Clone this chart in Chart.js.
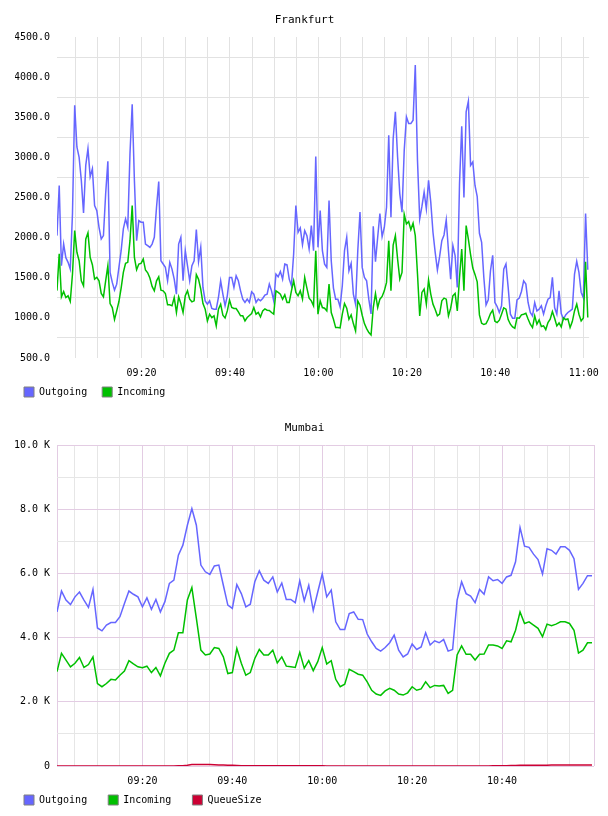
<!DOCTYPE html>
<html>
<head>
<meta charset="utf-8">
<script src="https://cdn.jsdelivr.net/npm/chart.js@4.4.1/dist/chart.umd.min.js"></script>
<style>
  body { margin: 0; background: #fff; }
  canvas { display: block; }
</style>
</head>
<body>
<canvas id="frankfurt" width="608" height="408"></canvas>
<canvas id="mumbai" width="608" height="408"></canvas>
<script>
// Frankfurt: one sample every 30 s, minutes after 09:00
const frStart = 0.9;
const frStep = 0.5;
const frOutgoing = [
    2025, 2650, 1650, 1920, 1750, 1692, 1608, 2300, 3650, 3129,
    3000, 2712, 2308, 2900, 3108, 2760, 2858, 2400, 2337, 2129,
    1983, 2025, 2546, 2950, 1567, 1442, 1346, 1420, 1629, 1837,
    2108, 2233, 2129, 3046, 3662, 2712, 1962, 2212, 2192, 2192,
    1920, 1900, 1879, 1920, 2004, 2379, 2700, 1712, 1671, 1629,
    1462, 1692, 1608, 1483, 1296, 1920, 2004, 1462, 1837, 1650,
    1462, 1650, 1712, 2100, 1700, 1880, 1379, 1212, 1171, 1212,
    1117, 1108, 1108, 1254, 1462, 1296, 1150, 1275, 1504, 1504,
    1379, 1525, 1462, 1337, 1233, 1192, 1233, 1192, 1325, 1296,
    1192, 1233, 1212, 1242, 1283, 1296, 1420, 1337, 1212, 1546,
    1512, 1579, 1483, 1671, 1662, 1483, 1400, 1796, 2400, 2066,
    2121, 1912, 2087, 2025, 1858, 2150, 1837, 3012, 1879, 2337,
    1837, 1670, 1629, 2462, 1712, 1371, 1233, 1233, 1137, 1400,
    1837, 2004, 1587, 1679, 1296, 1171, 1837, 2320, 1629, 1504,
    1462, 1230, 1050, 2140, 1700, 2004, 2300, 2012, 2129, 2379,
    3275, 2254, 3233, 3567, 3004, 2546, 2317, 3087, 3504, 3421,
    3421, 3463, 4150, 2962, 2233, 2388, 2567, 2358, 2713, 2442,
    2067, 1817, 1596, 1762, 1962, 2033, 2221, 1837, 1483, 1900,
    1775, 1380, 2671, 3387, 2500, 3567, 3700, 2900, 2942, 2650,
    2512, 2054, 1942, 1504, 1162, 1225, 1587, 1780, 1192, 1142,
    1067, 1150, 1608, 1671, 1379, 1046, 996, 996, 1225, 1246,
    1329, 1462, 1421, 1192, 1067, 1025, 1192, 1087, 1108, 1150,
    1046, 1150, 1233, 1254, 1504, 1129, 1046, 1337, 1054, 983,
    1037, 1067, 1087, 1108, 1546, 1704, 1567, 1317, 1250, 2300, 1600
];
const frIncoming = [
    1340, 1800, 1262, 1329, 1254, 1275, 1204, 1546, 2087, 1817,
    1712, 1462, 1400, 1980, 2060, 1754, 1662, 1483, 1504, 1462,
    1304, 1262, 1462, 1650, 1179, 1129, 979, 1087, 1204, 1371,
    1567, 1679, 1692, 1962, 2400, 1754, 1600, 1671, 1679, 1733,
    1596, 1562, 1496, 1392, 1337, 1462, 1512, 1346, 1337, 1304,
    1162, 1162, 1150, 1254, 1067, 1262, 1179, 1067, 1275, 1337,
    1233, 1200, 1212, 1540, 1480, 1358, 1179, 1108, 962, 1046,
    1004, 1025, 900, 1108, 1171, 1033, 1000, 1087, 1221, 1129,
    1117, 1117, 1075, 1025, 1025, 962, 1004, 1029, 1054, 1129,
    1046, 1067, 1012, 1087, 1112, 1096, 1092, 1067, 1046, 1337,
    1317, 1296, 1233, 1287, 1192, 1192, 1337, 1462, 1317, 1275,
    1337, 1233, 1504, 1371, 1246, 1212, 1150, 1837, 1046, 1212,
    1129, 1121, 1087, 1421, 1067, 983, 879, 879, 875, 1046,
    1179, 1121, 983, 1037, 929, 837, 1212, 1158, 1033, 929,
    867, 817, 787, 1129, 1304, 1129, 1233, 1267, 1337, 1442,
    1962, 1337, 1908, 2025, 1733, 1483, 1567, 2290, 2170, 2200,
    2100, 2180, 2025, 1546, 1025, 1317, 1358, 1171, 1471, 1296,
    1171, 1104, 1025, 1046, 1212, 1246, 1233, 1025, 1121, 1275,
    1304, 1087, 1504, 1858, 1337, 2150, 1980, 1787, 1621, 1542,
    1450, 1037, 933, 917, 929, 983, 1054, 1096, 958, 942,
    971, 1046, 1125, 1108, 979, 921, 887, 871, 1000, 996,
    1037, 1046, 1058, 987, 921, 879, 1025, 921, 975, 892,
    900, 854, 942, 983, 1079, 996, 900, 937, 887, 1000,
    979, 987, 879, 954, 1087, 1171, 1046, 962, 1000, 1700, 1004
];

// Mumbai: one sample per minute, minutes after 09:00
const muStart = 1;
const muStep = 1;
const muOutgoing = [
    4800, 5450, 5170, 5030, 5270, 5420, 5170, 4940, 5500, 4300,
    4210, 4390, 4470, 4470, 4650, 5060, 5450, 5350, 5270, 4960,
    5240, 4880, 5190, 4800, 5120, 5690, 5790, 6570, 6880, 7500,
    8020, 7500, 6260, 6050, 5970, 6230, 6260, 5630, 5010, 4910,
    5650, 5370, 4960, 5040, 5740, 6080, 5790, 5690, 5890, 5420,
    5700, 5190, 5190, 5090, 5770, 5150, 5630, 4850, 5420, 5980,
    5270, 5480, 4490, 4250, 4250, 4750, 4800, 4570, 4560, 4110,
    3870, 3660, 3580, 3690, 3840, 4080, 3610, 3400, 3490, 3800,
    3630, 3710, 4150, 3770, 3900, 3840, 3940, 3580, 3630, 5170,
    5740, 5370, 5290, 5090, 5500, 5350, 5890, 5770, 5810, 5690,
    5890, 5940, 6360, 7430, 6850, 6810, 6600, 6430, 5980, 6770,
    6720, 6600, 6830, 6830, 6720, 6460, 5500, 5690, 5930, 5930
];
const muIncoming = [
    2940, 3510, 3300, 3090, 3200, 3380, 3070, 3160, 3400, 2570,
    2470, 2570, 2700, 2680, 2830, 2960, 3280, 3180, 3090, 3060,
    3110, 2910, 3070, 2810, 3200, 3510, 3610, 4150, 4150, 5170,
    5560, 4600, 3610, 3460, 3490, 3690, 3660, 3400, 2880, 2910,
    3660, 3200, 2830, 2910, 3350, 3630, 3460, 3460, 3610, 3210,
    3400, 3110, 3090, 3070, 3540, 3050, 3280, 2970, 3250, 3690,
    3180, 3280, 2700, 2470, 2550, 3010, 2940, 2860, 2830, 2620,
    2360, 2240, 2200, 2340, 2420, 2360, 2240, 2210, 2280, 2470,
    2360, 2400, 2620, 2440, 2510, 2490, 2510, 2260, 2360, 3460,
    3740, 3480, 3480, 3300, 3480, 3490, 3770, 3770, 3740, 3660,
    3900, 3870, 4230, 4800, 4440, 4490, 4390, 4290, 4030, 4420,
    4370, 4420, 4490, 4490, 4440, 4230, 3520, 3610, 3840, 3840
];
const muQueue = [
    0, 0, 0, 0, 0, 0, 0, 0, 0, 0,
    0, 0, 0, 0, 0, 0, 0, 0, 0, 0,
    0, 0, 0, 0, 0, 0, 0, 5, 10, 25,
    45, 50, 50, 50, 45, 40, 35, 30, 25, 20,
    15, 10, 10, 5, 5, 5, 5, 5, 5, 5,
    5, 5, 5, 5, 5, 5, 5, 5, 5, 5,
    0, 0, 0, 0, 0, 0, 0, 0, 0, 0,
    0, 0, 0, 0, 0, 0, 0, 0, 0, 0,
    0, 0, 0, 0, 0, 0, 0, 0, 0, 0,
    0, 0, 0, 0, 0, 0, 0, 5, 5, 10,
    10, 15, 15, 20, 20, 20, 25, 25, 25, 25,
    30, 30, 30, 30, 30, 30, 30, 30, 30, 30
];

const frGrid = '#e2e2e2';
const muMajor = '#e3cce3';
const muMinor = '#e6e6e6';

Chart.defaults.font.family = '"DejaVu Sans Mono", monospace';
Chart.defaults.font.size = 10;
Chart.defaults.color = '#000';

function hhmm(v) {
    const h = 9 + Math.floor(v / 60);
    const m = v % 60;
    return String(h).padStart(2, '0') + ':' + String(m).padStart(2, '0');
}

function points(values, start, step) {
    return values.map((v, i) => ({x: start + i * step, y: v}));
}

function line(label, values, start, step, color, order) {
    return {
        label: label,
        data: points(values, start, step),
        borderColor: color,
        backgroundColor: color,
        borderWidth: 1.5,
        pointRadius: 0,
        tension: 0,
        fill: false,
        order: order
    };
}

function range(from, to, step) {
    const out = [];
    for (let v = from; v <= to + 1e-9; v += step) out.push(v);
    return out;
}

function makeChart(id, title, datasets, scales, padLen) {
    return new Chart(document.getElementById(id), {
        type: 'line',
        data: {datasets: datasets},
        options: {
            responsive: false,
            devicePixelRatio: 1,
            animation: false,
            events: [],
            layout: {padding: {left: 15, right: 14, top: 0, bottom: 1}},
            plugins: {
                title: {
                    display: true,
                    text: title,
                    color: '#000',
                    font: {size: 11, weight: 'normal'},
                    padding: {top: 13.4, bottom: 10.4}
                },
                legend: {
                    position: 'bottom',
                    align: 'start',
                    labels: {
                        boxWidth: 10,
                        boxHeight: 10,
                        padding: 9,
                        color: '#000',
                        font: {size: 10},
                        generateLabels: chart => chart.data.datasets.map((ds, i) => ({
                            text: ds.label.padEnd(padLen),
                            fillStyle: ds.borderColor,
                            strokeStyle: '#808080',
                            lineWidth: 1,
                            hidden: false,
                            datasetIndex: i
                        }))
                    }
                },
                tooltip: {enabled: false}
            },
            scales: scales
        }
    });
}

// ---- Frankfurt ----
const frXTicks = range(5, 120, 5);
const frYTicks = range(500, 4500, 250);

makeChart('frankfurt', 'Frankfurt', [
    line('Outgoing', frOutgoing, frStart, frStep, '#6666ff', 2),
    line('Incoming', frIncoming, frStart, frStep, '#00c000', 1)
], {
    x: {
        type: 'linear',
        min: 0.9,
        max: 121.2,
        afterBuildTicks: s => { s.ticks = frXTicks.map(v => ({value: v})); },
        afterFit: s => { s.height = 20; },
        ticks: {
            autoSkip: false,
            maxRotation: 0,
            padding: 9,
            callback: v => v % 20 === 0 ? hhmm(v) : ''
        },
        grid: {color: frGrid, drawTicks: false},
        border: {display: false}
    },
    y: {
        type: 'linear',
        min: 500,
        max: 4500,
        afterBuildTicks: s => { s.ticks = frYTicks.map(v => ({value: v})); },
        afterFit: s => { s.width = 42; },
        ticks: {
            autoSkip: false,
            padding: 7,
            callback: v => v % 500 === 0 ? v.toFixed(1) : ''
        },
        grid: {
            drawTicks: false,
            color: c => c.tick.value % 500 === 0 ? 'rgba(0,0,0,0)' : frGrid
        },
        border: {display: false}
    }
}, 9);

// ---- Mumbai ----
const muXMin = 1;
const muXMax = 120.45;
const muXTicks = [muXMin].concat(range(5, 115, 5), [muXMax]);
const muYTicks = range(0, 10000, 1000);

makeChart('mumbai', 'Mumbai', [
    line('Outgoing', muOutgoing, muStart, muStep, '#6666ff', 2),
    line('Incoming', muIncoming, muStart, muStep, '#00c000', 1),
    line('QueueSize', muQueue, muStart, muStep, '#cc0033', 0)
], {
    x: {
        type: 'linear',
        min: muXMin,
        max: muXMax,
        afterBuildTicks: s => { s.ticks = muXTicks.map(v => ({value: v})); },
        afterFit: s => { s.height = 20; },
        ticks: {
            autoSkip: false,
            maxRotation: 0,
            padding: 9,
            callback: v => v % 20 === 0 ? hhmm(v) : ''
        },
        grid: {
            drawTicks: false,
            color: c => {
                const v = c.tick.value;
                return (v === muXMin || v === muXMax || v % 20 === 0) ? muMajor : muMinor;
            }
        },
        border: {display: false}
    },
    y: {
        type: 'linear',
        min: 0,
        max: 10000,
        afterBuildTicks: s => { s.ticks = muYTicks.map(v => ({value: v})); },
        afterFit: s => { s.width = 42; },
        ticks: {
            autoSkip: false,
            padding: 7,
            callback: v => v === 0 ? '0' : (v % 2000 === 0 ? (v / 1000).toFixed(1) + ' K' : '')
        },
        grid: {
            drawTicks: false,
            color: c => c.tick.value % 2000 === 0 ? muMajor : muMinor
        },
        border: {display: false}
    }
}, 10);
</script>
</body>
</html>
